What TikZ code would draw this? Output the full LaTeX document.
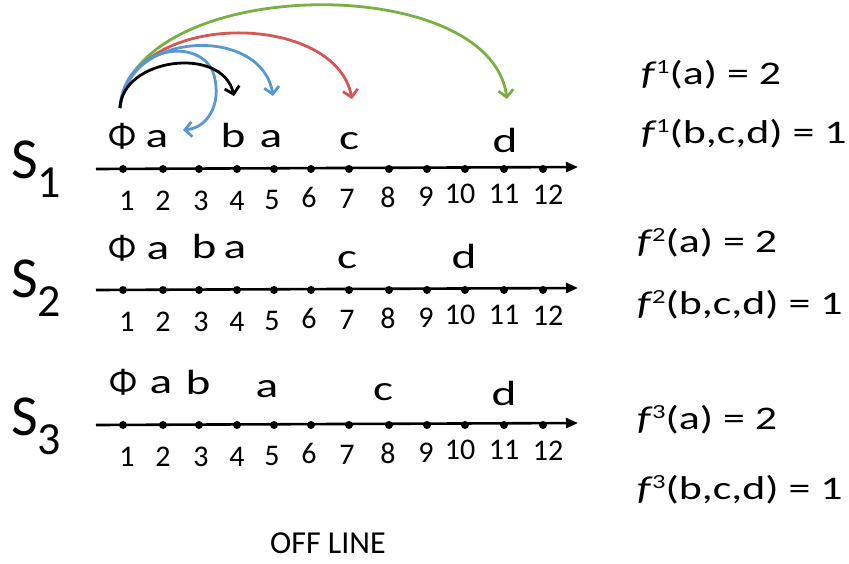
\documentclass[tikz,border=0pt]{standalone}
\usepackage{fontspec}
\setmainfont{Carlito}
\usepackage{graphicx}
\usetikzlibrary{arrows.meta}
\definecolor{cgreen}{RGB}{122,176,66}
\definecolor{cred}{RGB}{214,86,86}
\definecolor{cblue}{RGB}{88,152,210}
\newcommand{\wlab}[1]{\scalebox{1.35}[1]{#1}}
\newcommand{\phil}{\scalebox{1.05}[1]{Φ}}
\newcommand{\fexp}[2]{\scalebox{1.33}[1]{\textit{f}\kern-0.5pt\raisebox{11pt}{\fontsize{20}{20}\selectfont #1}#2}}
\newcommand{\Slab}[1]{\fontsize{58}{58}\selectfont S\raisebox{-19pt}{\fontsize{46}{46}\selectfont #1}}
\tikzset{
  lbl/.style={font=\fontsize{35}{35}\selectfont, anchor=base, inner sep=0pt},
  num/.style={font=\fontsize{30}{30}\selectfont, anchor=base, inner sep=0pt},
  ftxt/.style={font=\fontsize{33}{33}\selectfont, anchor=base west, inner sep=0pt},
  slbl/.style={anchor=base west, inner sep=0pt},
  dotn/.style={circle, fill=black, inner sep=0pt, minimum size=8pt},
  axisline/.style={line width=2.6pt, -{Triangle[length=12pt,width=10pt]}},
  jump/.style={line width=2.8pt, -{Straight Barb[length=7pt,width=15pt,line width=2.8pt]}},
}
\begin{document}
\begin{tikzpicture}[x=1pt,y=-1pt]
\useasboundingbox (0,0) rectangle (849,563);
% ---------- S labels ----------
\node[slbl] (S1) at (11,178) {\Slab{1}};
\node[slbl] (S2) at (11,297) {\Slab{2}};
\node[slbl] (S3) at (11,435) {\Slab{3}};
% ---------- axes ----------
\coordinate (a1s) at (96,169);
\coordinate (a1e) at (578,167);
\coordinate (a2s) at (96,290);
\coordinate (a2e) at (578,288);
\coordinate (a3s) at (96,425);
\coordinate (a3e) at (578,423);
\draw[axisline] (a1s) -- (a1e);
\draw[axisline] (a2s) -- (a2e);
\draw[axisline] (a3s) -- (a3e);
% ---------- dots and numbers ----------
\foreach \r/\yy in {1/169, 2/290, 3/425}{
  \foreach \i/\xd/\xn/\dy in {1/123/127/41, 2/163/163/41, 3/199/201/41, 4/237/237/41,
      5/274/272/40, 6/311/309/38, 7/349/347/39, 8/389/388/38, 9/427/426/37,
      10/465/460/34, 11/504/504/34, 12/543/548/35}{
    \node[dotn] (d\r-\i) at (\xd,\yy) {};
    \node[num] (n\r-\i) at (\xn,\yy+\dy) {\i};
  }
}
% ---------- letters S1 ----------
\node[lbl] (l1-phi) at (122,147) {\phil};
\node[lbl] (l1-a)   at (157,147) {\wlab{a}};
\node[lbl] (l1-b)   at (233,147) {\wlab{b}};
\node[lbl] (l1-a2)  at (271,147) {\wlab{a}};
\node[lbl] (l1-c)   at (349,149) {\wlab{c}};
\node[lbl] (l1-d)   at (505,152) {\wlab{d}};
% ---------- letters S2 ----------
\node[lbl] (l2-phi) at (122,259) {\phil};
\node[lbl] (l2-a)   at (158,259) {\wlab{a}};
\node[lbl] (l2-b)   at (204,258) {\wlab{b}};
\node[lbl] (l2-a2)  at (235,258) {\wlab{a}};
\node[lbl] (l2-c)   at (347,268) {\wlab{c}};
\node[lbl] (l2-d)   at (464,268) {\wlab{d}};
% ---------- letters S3 ----------
\node[lbl] (l3-phi) at (123,393) {\phil};
\node[lbl] (l3-a)   at (161,393) {\wlab{a}};
\node[lbl] (l3-b)   at (198,394) {\wlab{b}};
\node[lbl] (l3-a2)  at (267,397) {\wlab{a}};
\node[lbl] (l3-c)   at (383,400) {\wlab{c}};
\node[lbl] (l3-d)   at (504,405) {\wlab{d}};
% ---------- jump arrows ----------
\coordinate (o) at (120,108);
\coordinate (eb) at (234,96);
\coordinate (eb1) at (273,96);
\coordinate (eb2) at (183,130);
\coordinate (er) at (352,99);
\coordinate (eg) at (507,99);
\draw[jump, cgreen] (o) .. controls (135,-25) and (490,-30) .. (eg);
\draw[jump, cred] (o) .. controls (130,10) and (335,10) .. (er);
\draw[jump, cblue] (o) .. controls (125,30) and (262,25) .. (eb1);
\draw[jump, cblue] (o) .. controls (124,45) and (202,35) .. (214,75) .. controls (222,105) and (207,128) .. (eb2);
\draw[jump, black] (o) .. controls (122,58) and (222,45) .. (eb);
% ---------- right texts ----------
\node[ftxt] (f1a) at (641,84) {\fexp{1}{(a) = 2}};
\node[ftxt] (f1b) at (641,143) {\fexp{1}{(b,c,d) = 1}};
\node[ftxt] (f2a) at (637,252) {\fexp{2}{(a) = 2}};
\node[ftxt] (f2b) at (637,314) {\fexp{2}{(b,c,d) = 1}};
\node[ftxt] (f3a) at (637,429) {\fexp{3}{(a) = 2}};
\node[ftxt] (f3b) at (637,499) {\fexp{3}{(b,c,d) = 1}};
% ---------- caption ----------
\node[num, font=\fontsize{32}{32}\selectfont] (cap) at (328,553) {OFF LINE};
\end{tikzpicture}
\end{document}
